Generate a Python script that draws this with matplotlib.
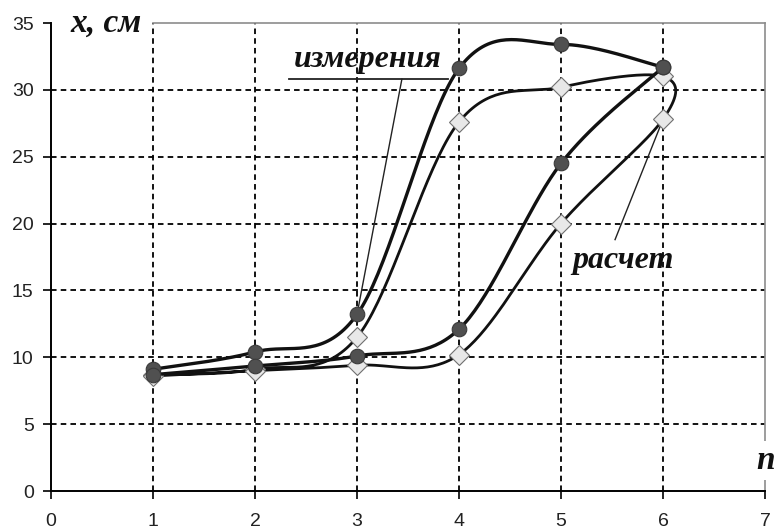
import numpy as np
import matplotlib
matplotlib.use("Agg")
import matplotlib.pyplot as plt

plt.rcParams['lines.scale_dashes'] = False

# Measured: rising branch and falling branch (they meet at n = 6)
meas_up_n = [1, 2, 3, 4, 5, 6]
meas_up_x = [9.1, 10.4, 13.2, 31.6, 33.4, 31.7]
meas_down_n = [6, 5, 4, 3, 2, 1]
meas_down_x = [31.7, 24.5, 12.1, 10.1, 9.35, 8.7]

# Calculated loop: rising branch 1..6, then falling branch back to 1
calc_n = [1, 2, 3, 4, 5, 6, 6, 5, 4, 3, 2, 1]
calc_x = [8.7, 9.1, 11.5, 27.6, 30.2, 31.0, 27.8, 20.0, 10.2, 9.4, 9.0, 8.6]

xticks = [0, 1, 2, 3, 4, 5, 6, 7]
yticks = [0, 5, 10, 15, 20, 25, 30, 35]

W, H = 776, 530
fig = plt.figure(figsize=(W / 100, H / 100), dpi=100)
ax = fig.add_axes([51 / W, (H - 491) / H, (765 - 51) / W, (491 - 23) / H])
ax.set_xlim(0, 7)
ax.set_ylim(0, 35)


def smooth(xs, ys, n=40):
    """Bezier smoothing through the points, computed in display space."""
    pts = ax.transData.transform(np.column_stack([xs, ys]))
    P = np.vstack([pts[0], pts, pts[-1]])
    t = np.linspace(0, 1, n)[:, None]
    segs = []
    for i in range(1, len(P) - 2):
        p0, p1, p2, p3 = P[i - 1], P[i], P[i + 1], P[i + 2]
        c1 = p1 + (p2 - p0) / 6
        c2 = p2 - (p3 - p1) / 6
        segs.append((1 - t) ** 3 * p1 + 3 * (1 - t) ** 2 * t * c1
                    + 3 * (1 - t) * t ** 2 * c2 + t ** 3 * p2)
    curve = ax.transData.inverted().transform(np.vstack(segs))
    return curve[:, 0], curve[:, 1]


# grid
grid_kw = dict(color='black', lw=1.3, linestyle=(0, (4, 3)), zorder=1)
for v in xticks[1:-1]:
    ax.axvline(v, **grid_kw)
for v in yticks[1:-1]:
    ax.axhline(v, **grid_kw)

# calculated loop
cx, cy = smooth(calc_n, calc_x)
ax.plot(cx, cy, color='#111111', lw=2.0, zorder=3, solid_capstyle='round')
ax.plot(calc_n, calc_x, linestyle='none', marker='D', ms=10.5,
        mfc='#e8e8e8', mec='#707070', mew=0.8, zorder=4)

# measured branches
for bn, bx in ((meas_up_n, meas_up_x), (meas_down_n, meas_down_x)):
    sx, sy = smooth(bn, bx)
    ax.plot(sx, sy, color='#111111', lw=2.4, zorder=5, solid_capstyle='round')
    ax.plot(bn, bx, linestyle='none', marker='o', ms=10.5,
            mfc='#505050', mec='#3a3a3a', mew=0.8, zorder=6)

# frame
for s in ('left', 'bottom'):
    ax.spines[s].set_color('black')
    ax.spines[s].set_linewidth(1.4)
for s in ('top', 'right'):
    ax.spines[s].set_color('#8c8c8c')
    ax.spines[s].set_linewidth(1.2)
ax.spines['top'].set_bounds(1, 7)

ax.set_xticks(xticks)
ax.set_yticks(yticks)
ax.tick_params(direction='out', length=5.5, width=1.2, color='black',
               labelsize=14, labelcolor='#222222')
ax.tick_params(axis='x', pad=10)
ax.tick_params(axis='y', pad=7)
for lab in ax.get_xticklabels() + ax.get_yticklabels():
    lab.set_family('Liberation Sans')

serif_kw = dict(family='Liberation Serif', style='italic', weight='bold',
                color='#111111', clip_on=False)

# axis titles
ax.text(0.54, 35, 'x, см', fontsize=24, ha='center', va='center', zorder=7,
        bbox=dict(facecolor='white', edgecolor='none', pad=1), **serif_kw)
ax.text(7.01, 2.3, 'n', fontsize=24, ha='center', va='center', zorder=7,
        bbox=dict(facecolor='white', edgecolor='none', pad=3), **serif_kw)

# callouts
ax.text(3.11, 31.7, 'измерения', fontsize=23, ha='center', va='baseline',
        zorder=7, **serif_kw)
ax.plot([2.33, 3.89], [30.8, 30.8], color='#222222', lw=1.3, zorder=7)
ax.plot([3.44, meas_up_n[2]], [30.8, meas_up_x[2]], color='#222222', lw=1.0,
        zorder=5)

ax.text(5.61, 16.7, 'расчет', fontsize=23, ha='center', va='baseline',
        zorder=7, **serif_kw)
ax.plot([5.53, calc_n[6]], [18.8, calc_x[6]], color='#222222', lw=1.0, zorder=3)

fig.savefig('out.png', dpi=100)
